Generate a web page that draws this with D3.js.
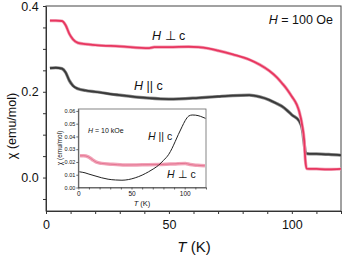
<!DOCTYPE html>
<html><head><meta charset="utf-8">
<script src="https://cdn.jsdelivr.net/npm/d3@7"></script>
<style>
html,body{margin:0;padding:0;background:#fff;}
svg{display:block;font-family:Arial,"Liberation Sans",sans-serif;}
</style></head>
<body><svg id="c" width="345" height="255"></svg>
<script>
// Main panel data (T in K, chi in emu/mol), H = 100 Oe
const mainPerp = [[1.6,0.366],[4,0.366],[6.5,0.365],[8,0.355],[9.5,0.335],[11,0.322],[13,0.314],[16,0.311],[20,0.309],[30,0.306],[42,0.302],[44,0.304],[50,0.304],[58,0.305],[62,0.304],[66,0.301],[70,0.296],[76,0.287],[82.7,0.275],[87,0.263],[90.8,0.249],[94,0.233],[96,0.220],[98,0.206],[100,0.189],[102,0.170],[103,0.154],[104.3,0.119],[105,0.088],[105.5,0.040],[106,0.021],[110,0.020],[115,0.019],[120,0.020]];
const mainPar = [[1.6,0.255],[4,0.256],[6.5,0.254],[8,0.245],[9.5,0.226],[11,0.214],[13,0.207],[16,0.203],[20,0.200],[30,0.192],[42,0.185],[50,0.183],[62,0.186],[70,0.189],[76,0.191],[82.7,0.192],[87,0.188],[90.8,0.181],[94,0.172],[96,0.166],[98,0.157],[100,0.146],[103,0.132],[104.3,0.111],[105,0.080],[105.6,0.058],[106,0.056],[110,0.055],[115,0.054],[120,0.052]];
// Inset data, H = 10 kOe
const insetPerp = [[1.6,0.0248],[5,0.0249],[9.4,0.0240],[13,0.0220],[17,0.0198],[22,0.0189],[30,0.0183],[44,0.0176],[60,0.0178],[75.5,0.0180],[90,0.0185],[100.6,0.0189],[105,0.0180],[112,0.0174],[119,0.0170]];
const insetPar = [[1,0.0123],[6.3,0.0115],[10,0.0105],[15.7,0.0091],[22,0.0076],[28,0.0065],[35,0.0059],[41,0.0057],[47,0.0062],[53.5,0.0076],[60,0.0097],[66,0.0123],[71,0.0148],[75.5,0.0175],[80,0.0212],[85,0.0260],[88,0.0305],[91,0.0359],[94,0.0415],[97.5,0.0476],[100.5,0.0525],[103.8,0.0560],[107,0.0568],[110,0.0567],[115,0.0557],[119.5,0.0542]];
// Ticks
const mainXTicks = [0,10,20,30,40,50,60,70,80,90,100,110,120];
const mainXLabels = [0,50,100];
const mainYTicks = [-0.05,0,0.05,0.1,0.15,0.2,0.25,0.3,0.35,0.4];
const mainYLabels = [0,0.2,0.4];
const insetXTicks = [0,10,20,30,40,50,60,70,80,90,100,110,120];
const insetXLabels = [0,50,100];
const insetYTicks = [0,0.01,0.02,0.03,0.04,0.05,0.06];

const svg = d3.select("#c");
const RED = "#e8365f", PINK = "#f2a3b8", DARK = "#3a3a3a";

// ---------- main panel ----------
const x = d3.scaleLinear().domain([0,120]).range([46,341]);
const y = d3.scaleLinear().domain([-0.078,0.4]).range([211,6]);

svg.append("rect").attr("x",46).attr("y",6).attr("width",295).attr("height",205)
  .attr("fill","none").attr("stroke","#444").attr("stroke-width",1);

const gx = svg.append("g").attr("transform","translate(0,211)")
  .call(d3.axisBottom(x).tickValues(mainXTicks).tickSize(3).tickSizeOuter(0)
    .tickFormat(d=>mainXLabels.includes(d)?d:""));
gx.selectAll("text").attr("font-size",12.5).attr("fill","#111").attr("dy","0.95em");
const gy = svg.append("g").attr("transform","translate(46,0)")
  .call(d3.axisLeft(y).tickValues(mainYTicks).tickSize(3).tickSizeOuter(0)
    .tickFormat(d=>mainYLabels.some(v=>Math.abs(v-d)<1e-9)?d3.format(".1f")(d):""));
gy.selectAll("text").attr("font-size",12.5).attr("fill","#111").attr("dx","-0.1em");
[gx,gy].forEach(g=>{g.selectAll(".domain").attr("stroke","#333");g.selectAll("line").attr("stroke","#333");});

const line = d3.line().x(d=>x(d[0])).y(d=>y(d[1])).curve(d3.curveMonotoneX);
svg.append("path").datum(mainPar).attr("d",line).attr("fill","none")
  .attr("stroke","#8a8a8a").attr("stroke-width",3.2);
svg.append("path").datum(mainPar).attr("d",line).attr("fill","none")
  .attr("stroke",DARK).attr("stroke-width",1.8);
svg.append("path").datum(mainPerp).attr("d",line).attr("fill","none")
  .attr("stroke",PINK).attr("stroke-width",3.2);
svg.append("path").datum(mainPerp).attr("d",line).attr("fill","none")
  .attr("stroke",RED).attr("stroke-width",1.8);

function label(sel, xp, yp, size, parts, anchor){
  const t = sel.append("text").attr("x",xp).attr("y",yp).attr("font-size",size)
    .attr("fill","#111").attr("text-anchor",anchor||"start");
  parts.forEach(p=>t.append("tspan").attr("font-style",p[1]?"italic":"normal").text(p[0]));
  return t;
}
label(svg,333,24,12.5,[["H",1],[" = 100 Oe",0]],"end");
label(svg,152,40,12.5,[["H",1],[" \u22A5 c",0]]);
label(svg,134,90,12.5,[["H",1],[" || c",0]]);

svg.append("text").attr("transform","translate(16,126) rotate(-90)")
  .attr("text-anchor","middle").attr("font-size",12.5).attr("fill","#111").text("\u03C7 (emu/mol)");
label(svg,194,252,15,[["T",1],[" (K)",0]],"middle");

// ---------- inset ----------
const xi = d3.scaleLinear().domain([0,120]).range([78.3,206]);
const yi = d3.scaleLinear().domain([0,0.0615]).range([187.5,109]);
svg.append("rect").attr("x",78.3).attr("y",109).attr("width",206-78.3).attr("height",187.5-109)
  .attr("fill","#fff").attr("stroke","#666").attr("stroke-width",0.8);
const gxi = svg.append("g").attr("transform","translate(0,187.5)")
  .call(d3.axisBottom(xi).tickValues(insetXTicks).tickSize(2).tickSizeOuter(0)
    .tickFormat(d=>insetXLabels.includes(d)?d:"").tickPadding(1.5));
gxi.selectAll("text").attr("font-size",6.5).attr("fill","#111");
const gyi = svg.append("g").attr("transform","translate(78.3,0)")
  .call(d3.axisLeft(yi).tickValues(insetYTicks).tickSize(2).tickSizeOuter(0)
    .tickFormat(d3.format(".2f")).tickPadding(1));
gyi.selectAll("text").attr("font-size",5.5).attr("fill","#111");
[gxi,gyi].forEach(g=>{g.selectAll(".domain").attr("stroke","#444").attr("stroke-width",0.8);g.selectAll("line").attr("stroke","#444").attr("stroke-width",0.8);});

const linei = d3.line().x(d=>xi(d[0])).y(d=>yi(d[1])).curve(d3.curveMonotoneX);
svg.append("path").datum(insetPerp).attr("d",linei).attr("fill","none")
  .attr("stroke",PINK).attr("stroke-width",3.5);
svg.append("path").datum(insetPerp).attr("d",linei).attr("fill","none")
  .attr("stroke","#e06a88").attr("stroke-width",0.8);
svg.append("path").datum(insetPar).attr("d",linei).attr("fill","none")
  .attr("stroke","#222").attr("stroke-width",1);

label(svg,88,133,7,[["H",1],[" = 10 kOe",0]]);
label(svg,148,140,10.5,[["H",1],[" || c",0]]);
label(svg,167,178,10.5,[["H",1],[" \u22A5 c",0]]);
svg.append("text").attr("transform","translate(62,148) rotate(-90)")
  .attr("text-anchor","middle").attr("font-size",6.5).attr("fill","#111").text("\u03C7 (emu/mol)");
label(svg,142,206,7.5,[["T",1],[" (K)",0]],"middle");
</script></body></html>
